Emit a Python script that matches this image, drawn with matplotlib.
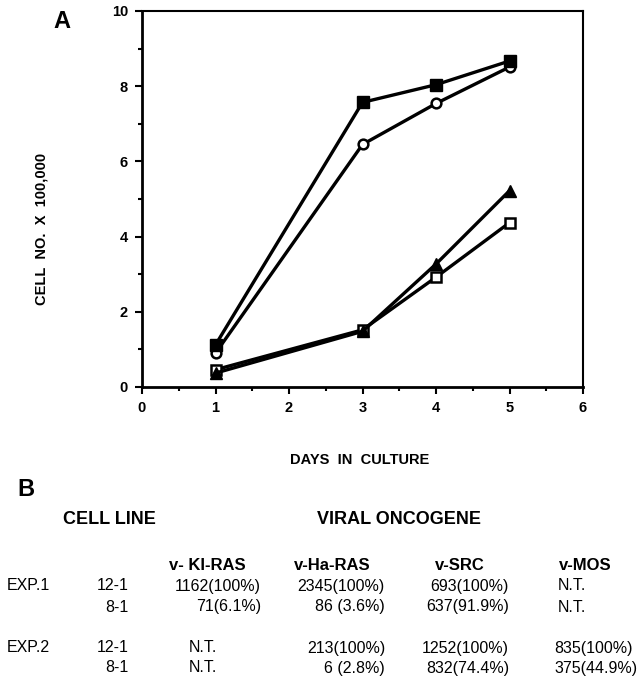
import numpy as np
import matplotlib
matplotlib.use("Agg")
import matplotlib.pyplot as plt
from matplotlib.ticker import MultipleLocator

plt.rcParams["font.family"] = ["Liberation Sans", "DejaVu Sans"]

# Panel A: growth curves
days = [1, 3, 4, 5]
filled_square = [1.12, 7.57, 8.04, 8.67]
open_circle = [0.90, 6.45, 7.54, 8.51]
open_square = [0.46, 1.52, 2.92, 4.37]
filled_triangle = [0.37, 1.48, 3.27, 5.22]

# Panel B: table
col_headers = ["v- KI-RAS", "v-Ha-RAS", "v-SRC", "v-MOS"]
exp_labels = ["EXP.1", "", "EXP.2", ""]
cell_lines = ["12-1", "8-1", "12-1", "8-1"]
table_rows = [
    ["1162(100%)", "2345(100%)", "693(100%)", "N.T."],
    ["71(6.1%)", "86 (3.6%)", "637(91.9%)", "N.T."],
    ["N.T.", "213(100%)", "1252(100%)", "835(100%)"],
    ["N.T.", "6 (2.8%)", "832(74.4%)", "375(44.9%)"],
]

W, H = 640, 678
fig = plt.figure(figsize=(W / 100, H / 100), dpi=100)


def fx(px):
    return px / W


def fy(py):
    return 1 - py / H


ax = fig.add_axes([fx(142), fy(387), fx(583) - fx(142), fy(11) - fy(387)])

line_kw = dict(color="black", linewidth=2.4)
ax.plot(days, open_square, marker="s", markersize=7, markerfacecolor="white",
        markeredgecolor="black", markeredgewidth=1.8, **line_kw)
ax.plot(days, filled_triangle, marker="^", markersize=9, markerfacecolor="black",
        markeredgecolor="black", **line_kw)
ax.plot(days, open_circle, marker="o", markersize=7, markerfacecolor="white",
        markeredgecolor="black", markeredgewidth=1.8, **line_kw)
ax.plot(days, filled_square, marker="s", markersize=8, markerfacecolor="black",
        markeredgecolor="black", **line_kw)

ax.set_xlim(0, 6)
ax.set_ylim(0, 10)
ax.xaxis.set_major_locator(MultipleLocator(1))
ax.xaxis.set_minor_locator(MultipleLocator(0.5))
ax.yaxis.set_major_locator(MultipleLocator(2))
ax.yaxis.set_minor_locator(MultipleLocator(1))
ax.tick_params(which="major", length=5, width=1.5, labelsize=10.5, pad=5)
ax.tick_params(which="minor", length=3, width=1.5)
for lab in ax.get_xticklabels() + ax.get_yticklabels():
    lab.set_fontweight("bold")
for side in ["left", "bottom"]:
    ax.spines[side].set_linewidth(2)
for side in ["top", "right"]:
    ax.spines[side].set_linewidth(1.5)

ax.set_xlabel("DAYS  IN  CULTURE", fontsize=10.5, fontweight="bold")
ax.set_ylabel("CELL  NO.  X  100,000", fontsize=10.5, fontweight="bold")
ax.xaxis.set_label_coords((360 - 142) / 441, (387 - 453) / 376)
ax.yaxis.set_label_coords((49 - 142) / 441, (387 - 229) / 376)

fig.text(fx(53), fy(22), "A", fontsize=17, fontweight="bold", ha="left", va="center")
fig.text(fx(17), fy(489), "B", fontsize=17, fontweight="bold", ha="left", va="center")
fig.text(fx(63), fy(520), "CELL LINE", fontsize=13, fontweight="bold", ha="left", va="center")
fig.text(fx(317), fy(519), "VIRAL ONCOGENE", fontsize=13, fontweight="bold", ha="left", va="center")

# column anchors (pixels) and alignment
col_x = [261, 385, 509, 554]
col_ha = ["right", "right", "right", "left"]
nt_left = [189, 300, 425, 558]
head_x = [169, 294, 435, 559]
head_y = 565
row_y = [586, 607, 648, 668]
val_size = 11.5

for hx, h in zip(head_x, col_headers):
    fig.text(fx(hx), fy(head_y), h, fontsize=12, fontweight="bold", ha="left", va="center")

for r, y in enumerate(row_y):
    if exp_labels[r]:
        fig.text(fx(7), fy(y), exp_labels[r], fontsize=val_size, ha="left", va="center")
    fig.text(fx(129), fy(y), cell_lines[r], fontsize=val_size, ha="right", va="center")
    for c, val in enumerate(table_rows[r]):
        if val == "N.T.":
            fig.text(fx(nt_left[c]), fy(y), val, fontsize=val_size, ha="left", va="center")
        else:
            fig.text(fx(col_x[c]), fy(y), val, fontsize=val_size, ha=col_ha[c], va="center")

fig.savefig("out.png", dpi=100)
